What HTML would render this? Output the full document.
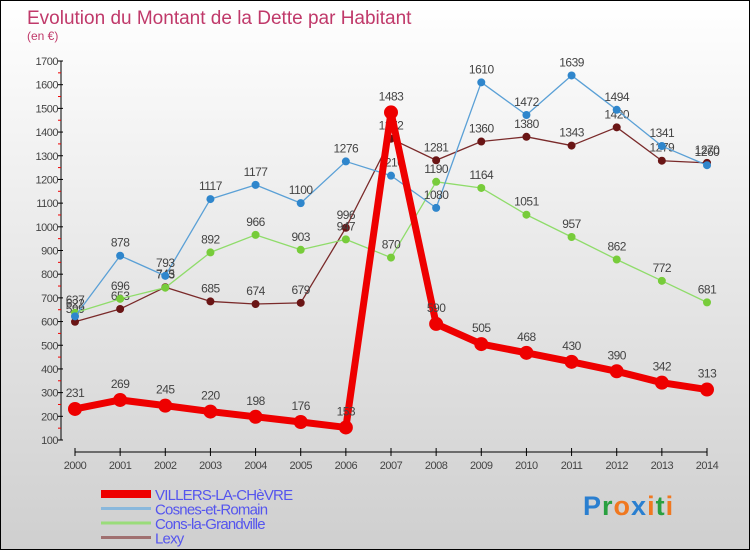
<!DOCTYPE html>
<html><head><meta charset="utf-8"><style>
body{margin:0}
#wrap{position:relative;width:748px;height:548px;border:1px solid #000;background:linear-gradient(#ffffff,#cfcfcf);overflow:hidden;font-family:"Liberation Sans",sans-serif}
</style></head><body>
<div id="wrap">
<svg id="chart" width="748" height="548"></svg>
</div>
<script>
const years=[2000,2001,2002,2003,2004,2005,2006,2007,2008,2009,2010,2011,2012,2013,2014];
const villers=[231,269,245,220,198,176,153,1483,590,505,468,430,390,342,313];
const cosnes=[622,878,793,1117,1177,1100,1276,1216,1080,1610,1472,1639,1494,1341,1260];
const cons=[637,696,743,892,966,903,947,870,1190,1164,1051,957,862,772,681];
const lexy=[599,653,745,685,674,679,996,1372,1281,1360,1380,1343,1420,1279,1270];
const yTicks=[100,200,300,400,500,600,700,800,900,1000,1100,1200,1300,1400,1500,1600,1700];
const seriesNames=["VILLERS-LA-CHèVRE","Cosnes-et-Romain","Cons-la-Grandville","Lexy"];
const NS="http://www.w3.org/2000/svg";
const svg=document.getElementById('chart');
const X=i=>74+i*(632/14);
const Y=v=>439-(v-100)*(379/1600);
function el(t,a,p){const e=document.createElementNS(NS,t);for(const k in a)e.setAttribute(k,a[k]);(p||svg).appendChild(e);return e;}
function txt(s,a){const e=el('text',a);e.textContent=s;return e;}
const title=txt("Evolution du Montant de la Dette par Habitant",{x:26,y:23,'font-size':19,fill:'#c0396a'});


const sub=txt("(en €)",{x:26,y:39,'font-size':12,fill:'#c0396a'});


// axes
const yAxis=el('line',{x1:60,y1:Y(1700),x2:60,y2:Y(100),stroke:'#000','stroke-width':1});


yTicks.forEach(v=>{
 el('line',{x1:57,y1:Y(v),x2:62,y2:Y(v),stroke:'#000'});
 if(v<1700) el('line',{x1:57,y1:Y(v+50),x2:60,y2:Y(v+50),stroke:'#e00'});
 const t=txt(v,{x:57,y:Y(v)+4,'font-size':11,fill:'#444','text-anchor':'end','letter-spacing':'-0.5'});
 
 
});
const xAxis=el('line',{x1:X(0),y1:451,x2:X(14),y2:451,stroke:'#000'});


years.forEach((yr,i)=>{
 el('line',{x1:X(i),y1:447,x2:X(i),y2:455,stroke:'#000'});
 const t=txt(yr,{x:X(i),y:468,'font-size':11,fill:'#444','text-anchor':'middle','letter-spacing':'-0.5'});
 
 
});
function series(data,color,w,r,dotColor,name){
 const pts=data.map((v,i)=>X(i)+','+Y(v)).join(' ');
 const pl=el('polyline',{points:pts,fill:'none',stroke:color,'stroke-width':w,'stroke-linejoin':'round'});
 
 
 data.forEach((v,i)=>{
  const c=el('circle',{cx:X(i),cy:Y(v),r:r,fill:dotColor});
  
  
  const t=txt(v,{x:X(i),y:Y(v)-r-5,'font-size':12,fill:'#444','text-anchor':'middle','letter-spacing':'-0.5'});
  
  
 });
}
series(lexy,'#7a2a2a',1.3,4,'#6a1515','lexy');
series(cons,'#8fdc6a',1.3,4,'#77cc3a','cons-la-grandville');
series(cosnes,'#5aa0d6',1.3,4,'#2f86cc','cosnes-et-romain');
series(villers,'#ee0000',7,7,'#ee0000','villers-la-chevre');
// legend
const lg=[['#ee0000',8],['#8ab8dc',3],['#9adc7a',3],['#a07070',3]];
lg.forEach((l,i)=>{
 const y=493+i*14.5;
 const ln=el('line',{x1:100,y1:y,x2:150,y2:y,stroke:l[0],'stroke-width':l[1]});
 
 
 const t=txt(seriesNames[i],{x:154,y:y+6,'font-size':15,fill:'#5555ee','letter-spacing':'-0.8'});
 
 
});
// logo
const logo=el('text',{x:582,y:514,'font-size':27,'font-weight':'bold','letter-spacing':'1'});


[['P','#2a7fd0'],['r','#2aa040'],['o','#f07820'],['x','#2a7fd0'],['i','#f07820'],['t','#2aa040'],['i','#f07820']].forEach(c=>{const s=el('tspan',{fill:c[1]},logo);s.textContent=c[0];});
</script>
</body></html>
